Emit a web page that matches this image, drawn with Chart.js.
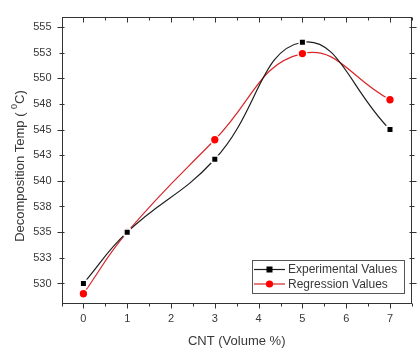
<!DOCTYPE html>
<html><head><meta charset="utf-8">
<script src="https://cdn.jsdelivr.net/npm/chart.js@4/dist/chart.umd.min.js"></script>
<style>html,body{margin:0;padding:0;background:#fff;overflow:hidden}#wrap{width:418px;height:353px;position:relative}</style>
</head><body><div id="wrap"><canvas id="c" width="418" height="353"></canvas></div>
<script>
const cntVolume = [0, 1, 3, 5, 7];
const experimentalValues = [530, 535, 542.1, 553.5, 545];
const regressionValues = [529, 535, 544, 552.4, 547.9];
const seriesNames = ['Experimental Values', 'Regression Values'];
const xTickValues = [0, 1, 2, 3, 4, 5, 6, 7];
const xTickLabels = ['0', '1', '2', '3', '4', '5', '6', '7'];
const yTickValues = [530, 532.5, 535, 537.5, 540, 542.5, 545, 547.5, 550, 552.5, 555];
const yTickLabels = ['530', '533', '535', '538', '540', '543', '545', '548', '550', '553', '555'];
const xTitle = 'CNT (Volume %)';
const yTitleParts = ['Decomposition Temp ( ', '0', 'C)'];

const FONT = "'Liberation Sans', Arial, sans-serif";
const TXT = '#383838';

function pts(ys) { return cntVolume.map((x, i) => ({ x: x, y: ys[i] })); }

const deco = {
  id: 'deco',
  afterDraw(chart) {
    const ctx = chart.ctx, a = chart.chartArea;
    const xs = chart.scales.x, ys = chart.scales.y;
    ctx.save();
    ctx.strokeStyle = '#333';
    ctx.lineWidth = 1;
    const L = Math.round(a.left) + 0.5, R = Math.round(a.right) - 0.5;
    const T = Math.round(a.top) + 0.5, B = Math.round(a.bottom) - 0.5;
    ctx.strokeRect(L, T, R - L, B - T);
    ctx.beginPath();
    for (let v = -0.5; v <= 7.5; v += 0.5) {
      const px = Math.round(xs.getPixelForValue(v)) + 0.5;
      const major = Number.isInteger(v);
      const len = major ? 5 : 3;
      ctx.moveTo(px, B); ctx.lineTo(px, B + len);
      ctx.moveTo(px, T); ctx.lineTo(px, T + len);
    }
    for (let v = 530; v <= 555; v += 2.5) {
      const py = Math.round(ys.getPixelForValue(v)) + 0.5;
      const major = v % 5 === 0;
      const len = major ? 5 : 3;
      ctx.moveTo(L - len, py); ctx.lineTo(L + 2, py);
      ctx.moveTo(R - 2, py); ctx.lineTo(R + len, py);
    }
    ctx.stroke();

    ctx.fillStyle = TXT;
    ctx.font = '13px ' + FONT;
    ctx.textAlign = 'center';
    ctx.textBaseline = 'middle';
    ctx.fillText(xTitle, (a.left + a.right) / 2, 341);

    ctx.save();
    ctx.translate(20, 166);
    ctx.rotate(-Math.PI / 2);
    ctx.textAlign = 'left';
    ctx.font = '13px ' + FONT;
    const w0 = ctx.measureText(yTitleParts[0]).width;
    ctx.font = '9px ' + FONT;
    const w1 = ctx.measureText(yTitleParts[1]).width;
    ctx.font = '13px ' + FONT;
    const w2 = ctx.measureText(yTitleParts[2]).width;
    let x0 = -(w0 + w1 + w2) / 2;
    ctx.fillText(yTitleParts[0], x0, 0);
    ctx.font = '9px ' + FONT;
    ctx.fillText(yTitleParts[1], x0 + w0, -5);
    ctx.font = '13px ' + FONT;
    ctx.fillText(yTitleParts[2], x0 + w0 + w1, 0);
    ctx.restore();

    const lx = 252.5, ly = 260.5, lw = 152, lh = 33;
    ctx.fillStyle = '#fff';
    ctx.fillRect(lx, ly, lw, lh);
    ctx.strokeStyle = '#555';
    ctx.strokeRect(lx, ly, lw, lh);
    chart.data.datasets.forEach((ds, i) => {
      const cy = 269.5 + i * 14.5;
      ctx.strokeStyle = ds.borderColor;
      ctx.lineWidth = 1.2;
      ctx.beginPath(); ctx.moveTo(254, cy); ctx.lineTo(285, cy); ctx.stroke();
      ctx.fillStyle = ds.pointBackgroundColor;
      if (ds.pointStyle === 'rect') {
        ctx.fillRect(266.5, cy - 3, 6, 6);
      } else {
        ctx.beginPath(); ctx.arc(269.5, cy, 3.6, 0, Math.PI * 2); ctx.fill();
      }
      ctx.fillStyle = TXT;
      ctx.font = '12px ' + FONT;
      ctx.textAlign = 'left';
      ctx.textBaseline = 'middle';
      ctx.fillText(ds.label, 288, cy + 0.5);
    });
    ctx.restore();
  }
};

new Chart(document.getElementById('c'), {
  type: 'line',
  data: {
    datasets: [
      {
        label: seriesNames[0], data: pts(experimentalValues),
        borderColor: '#1e1e1e', borderWidth: 1.2, tension: 0.45,
        pointStyle: 'rect', pointRadius: 4.6, pointBackgroundColor: '#000',
        pointBorderColor: '#fff', pointBorderWidth: 1.5
      },
      {
        label: seriesNames[1], data: pts(regressionValues),
        borderColor: '#d8262a', borderWidth: 1.2, tension: 0.45,
        pointStyle: 'circle', pointRadius: 4.4, pointBackgroundColor: '#f00',
        pointBorderColor: '#fff', pointBorderWidth: 1.5
      }
    ]
  },
  options: {
    responsive: false, animation: false, devicePixelRatio: 1,
    layout: { padding: { top: 6, right: 1, left: 0, bottom: 0 } },
    plugins: { legend: { display: false }, tooltip: { enabled: false } },
    scales: {
      x: {
        type: 'linear', min: -0.5, max: 7.5,
        afterFit: s => { s.height = 49; },
        afterBuildTicks: s => { s.ticks = xTickValues.map(v => ({ value: v })); },
        grid: { display: false, drawTicks: false }, border: { display: false },
        ticks: { padding: 8, color: TXT, font: { family: FONT, size: 11 },
          callback: (v, i) => xTickLabels[i], maxRotation: 0 }
      },
      y: {
        type: 'linear', min: 528, max: 556,
        afterFit: s => { s.width = 61.5; },
        afterBuildTicks: s => { s.ticks = yTickValues.map(v => ({ value: v })); },
        grid: { display: false, drawTicks: false }, border: { display: false },
        ticks: { padding: 10, color: TXT, font: { family: FONT, size: 11 },
          callback: (v, i) => yTickLabels[i] }
      }
    }
  },
  plugins: [deco]
});
</script></body></html>
